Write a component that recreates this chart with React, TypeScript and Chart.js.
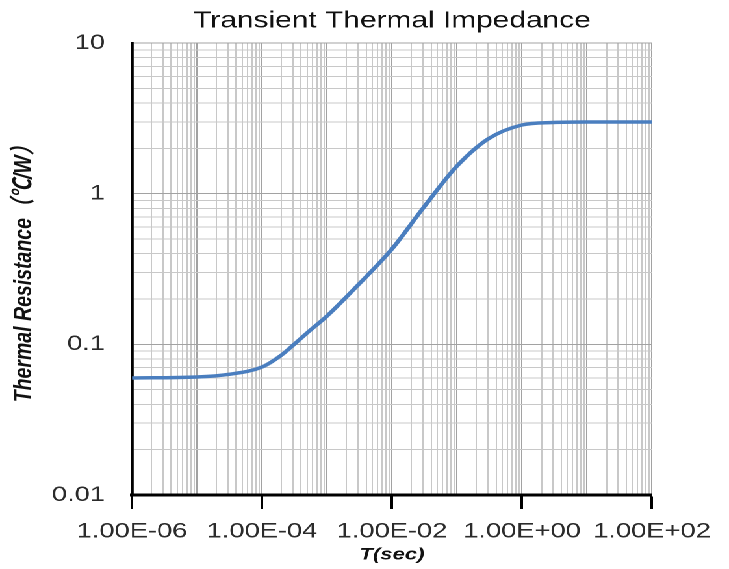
import React, { useEffect, useRef } from 'react';
import { Chart, registerables } from 'chart.js';

Chart.register(...registerables);

// ---- data ----
const timeSec = [1e-6, 1e-5, 3e-5, 1e-4, 2e-4, 3e-4, 5e-4, 1e-3, 3e-3, 1e-2, 3e-2, 1e-1, 3e-1, 1, 3, 10, 100];
const thermalResistance = [0.0598, 0.0607, 0.0631, 0.0707, 0.085, 0.0985, 0.1196, 0.1542, 0.2475, 0.4294, 0.80, 1.526, 2.306, 2.856, 2.967, 2.99, 2.99];

const xTickValues = [1e-6, 1e-4, 1e-2, 1, 100];
const xTickLabels = ['1.00E-06', '1.00E-04', '1.00E-02', '1.00E+00', '1.00E+02'];
const yTickValues = [0.01, 0.1, 1, 10];
const yTickLabels = ['0.01', '0.1', '1', '10'];

const chartTitle = 'Transient Thermal Impedance';
const xAxisTitle = 'T(sec)';
const yAxisTitle = 'Thermal Resistance（℃/W）';

// ---- layout / style ----
const PAGE_W = 729;
const PAGE_H = 569;
const CANVAS_W = 561;
const STRETCH = PAGE_W / CANVAS_W;
const FONT = "'Liberation Sans', Arial, 'Noto Sans CJK SC', sans-serif";
const MAJOR_GRID = '#a2a2a2';
const MINOR_GRID = '#c8c8c8';
const LINE_COLOR = '#4a7ebf';

function logTicks(minExp: number, maxExp: number) {
  const out: { value: number }[] = [];
  for (let e = minExp; e < maxExp; e++) {
    for (let k = 1; k <= 9; k++) {
      out.push({ value: Number((k * Math.pow(10, e)).toPrecision(6)) });
    }
  }
  out.push({ value: Math.pow(10, maxExp) });
  return out;
}

function findIndex(v: number, list: number[]) {
  if (!(v > 0)) return -1;
  const lv = Math.log10(v);
  return list.findIndex((t) => Math.abs(Math.log10(t) - lv) < 1e-6);
}

function isMajor(v: number | undefined) {
  if (!(v && v > 0)) return false;
  const lv = Math.log10(v);
  return Math.abs(lv - Math.round(lv)) < 1e-6;
}

export default function App() {
  const ref = useRef<HTMLCanvasElement | null>(null);

  useEffect(() => {
    if (!ref.current) return;
    const chart = new Chart(ref.current, {
      type: 'line',
      data: {
        datasets: [
          {
            data: timeSec.map((t, i) => ({ x: t, y: thermalResistance[i] })),
            borderColor: LINE_COLOR,
            borderWidth: 3.5,
            pointRadius: 0,
            fill: false,
            cubicInterpolationMode: 'monotone',
          },
        ],
      },
      options: {
        animation: false,
        responsive: false,
        devicePixelRatio: 2,
        layout: { padding: { left: 0, right: CANVAS_W - 652 / STRETCH, top: 0, bottom: 0 } },
        plugins: {
          legend: { display: false },
          tooltip: { enabled: false },
          title: {
            display: true,
            fullSize: false,
            text: chartTitle,
            color: '#111111',
            font: { family: FONT, size: 23, weight: 'normal' },
            padding: { top: 7.2, bottom: 8.2 },
          },
        },
        scales: {
          x: {
            type: 'logarithmic',
            min: 1e-6,
            max: 100,
            afterBuildTicks: (s: any) => {
              s.ticks = logTicks(-6, 2);
            },
            afterFit: (s: any) => {
              s.height = PAGE_H - 495;
            },
            ticks: {
              autoSkip: false,
              maxRotation: 0,
              minRotation: 0,
              padding: 10,
              color: '#2b2b2b',
              font: { family: FONT, size: 21 },
              callback: (v: any) => {
                const i = findIndex(Number(v), xTickValues);
                return i >= 0 ? xTickLabels[i] : '';
              },
            },
            grid: {
              color: (ctx: any) => (isMajor(ctx.tick?.value) ? MAJOR_GRID : MINOR_GRID),
              lineWidth: 1,
              drawTicks: true,
              tickLength: 14,
              tickWidth: 2,
              tickColor: (ctx: any) =>
                findIndex(ctx.tick?.value, xTickValues) >= 0 ? '#000000' : 'rgba(0,0,0,0)',
            },
            border: { display: true, color: '#000000', width: 3 },
            title: {
              display: true,
              text: xAxisTitle,
              color: '#111111',
              font: { family: FONT, size: 17, weight: 'bold', style: 'italic' },
              padding: { top: 0, bottom: 4 },
            },
          },
          y: {
            type: 'logarithmic',
            min: 0.01,
            max: 10,
            afterBuildTicks: (s: any) => {
              s.ticks = logTicks(-2, 1);
            },
            afterFit: (s: any) => {
              s.width = 132 / STRETCH;
            },
            ticks: {
              autoSkip: false,
              padding: 132 / STRETCH - 105 / STRETCH,
              color: '#2b2b2b',
              font: { family: FONT, size: 21 },
              callback: (v: any) => {
                const i = findIndex(Number(v), yTickValues);
                return i >= 0 ? yTickLabels[i] : '';
              },
            },
            grid: {
              color: (ctx: any) => (isMajor(ctx.tick?.value) ? MAJOR_GRID : MINOR_GRID),
              lineWidth: 1,
              drawTicks: false,
            },
            border: { display: true, color: '#000000', width: 2.4 },
            title: {
              display: true,
              text: yAxisTitle,
              color: '#111111',
              font: { family: FONT, size: 19.5, weight: 'bold', style: 'italic' },
              padding: { top: 7, bottom: 0 },
            },
          },
        },
      },
    } as any);
    return () => chart.destroy();
  }, []);

  return (
    <div
      style={{
        position: 'fixed',
        left: 0,
        top: 0,
        width: CANVAS_W,
        height: PAGE_H,
        background: '#ffffff',
        transform: `scaleX(${STRETCH})`,
        transformOrigin: '0 0',
      }}
    >
      <canvas ref={ref} width={CANVAS_W} height={PAGE_H} />
    </div>
  );
}
